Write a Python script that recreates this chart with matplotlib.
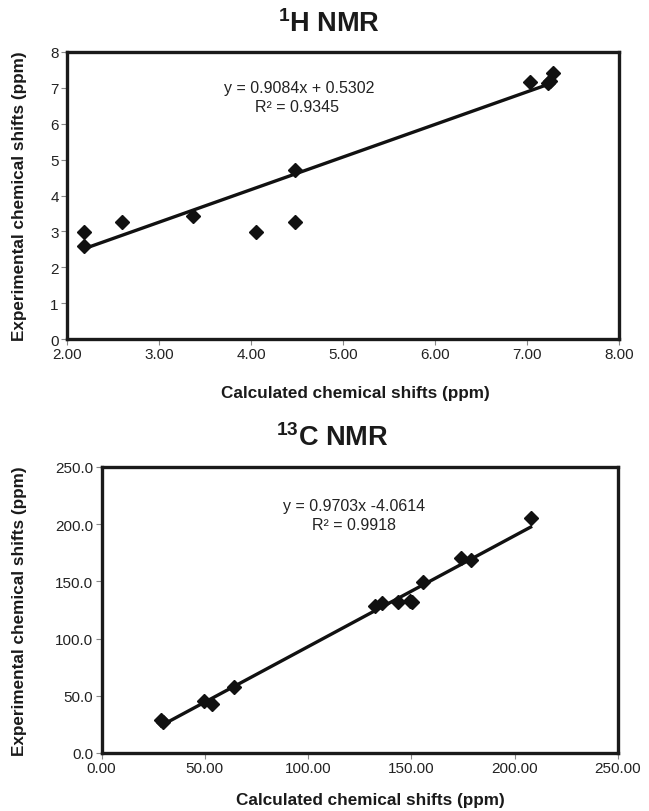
import numpy as np
import matplotlib
matplotlib.use("Agg")
import matplotlib.pyplot as plt

plt.rcParams['font.family'] = ['Liberation Sans', 'DejaVu Sans']
plt.rcParams['mathtext.fontset'] = 'custom'
plt.rcParams['mathtext.rm'] = 'Liberation Sans'
plt.rcParams['mathtext.bf'] = 'Liberation Sans:bold'

# 1H NMR: calculated vs experimental shifts (ppm)
h_calc = [2.19, 2.19, 2.60, 3.37, 4.05, 4.48, 4.48, 7.03, 7.23, 7.25, 7.28]
h_exp = [2.98, 2.60, 3.27, 3.42, 2.98, 3.27, 4.71, 7.16, 7.13, 7.18, 7.41]
h_slope, h_icpt, h_r2 = 0.9084, 0.5302, 0.9345

# 13C NMR
c_calc = [29.0, 30.0, 49.7, 53.3, 64.2, 132.6, 135.8, 143.5, 149.2, 150.2,
          155.6, 174.2, 179.0, 207.7]
c_exp = [29.0, 27.5, 45.2, 42.8, 57.4, 128.7, 130.8, 131.7, 133.1, 132.0,
         149.7, 170.4, 169.0, 205.4]
c_slope, c_icpt, c_r2 = 0.9703, -4.0614, 0.9918

h_xticks = [2, 3, 4, 5, 6, 7, 8]
h_yticks = [0, 1, 2, 3, 4, 5, 6, 7, 8]
c_xticks = [0, 50, 100, 150, 200, 250]
c_yticks = [0, 50, 100, 150, 200, 250]

W, H = 649, 812
fig = plt.figure(figsize=(W / 100, H / 100), dpi=100)


def px_axes(l, t, r, b):
    return fig.add_axes([l / W, 1 - b / H, (r - l) / W, (b - t) / H])


def style(ax):
    for s in ax.spines.values():
        s.set_linewidth(2.4)
        s.set_color('#1a1a1a')
    ax.tick_params(direction='out', length=4, width=0.8, color='#888888',
                   labelsize=11, pad=2, labelcolor='#222222')


def panel(ax, xs, ys, slope, icpt, xlim, ylim, xt, yt, xfmt, yfmt):
    ax.plot(xs, ys, linestyle='none', marker='D', markersize=7,
            color='#111111', zorder=3)
    lx = np.array([min(xs), max(xs)])
    ax.plot(lx, slope * lx + icpt, color='#111111', lw=2.4, zorder=2)
    ax.set_xlim(*xlim)
    ax.set_ylim(*ylim)
    ax.set_xticks(xt)
    ax.set_yticks(yt)
    ax.set_xticklabels([xfmt.format(v) for v in xt])
    ax.set_yticklabels([yfmt.format(v) for v in yt])
    style(ax)


lab = dict(ha='center', va='center', fontsize=12.3, fontweight='bold', color='#1a1a1a')
eq = dict(ha='center', va='center', fontsize=11.5, color='#222222')
ttl = dict(ha='center', va='center', fontsize=19.5, fontweight='bold', color='#1a1a1a')

ax1 = px_axes(67, 53, 619, 340)
panel(ax1, h_calc, h_exp, h_slope, h_icpt, (2, 8), (0, 8),
      h_xticks, h_yticks, '{:.2f}', '{:d}')
fig.text(299 / W, 1 - 89 / H, 'y = {:.4f}x + {:.4f}'.format(h_slope, h_icpt), **eq)
fig.text(297 / W, 1 - 108 / H, 'R² = {:.4f}'.format(h_r2), **eq)
fig.text(329 / W, 1 - 24 / H, r'$^{\mathbf{1}}$H NMR', **ttl)
fig.text(355 / W, 1 - 394 / H, 'Calculated chemical shifts (ppm)', **lab)
fig.text(20 / W, 1 - 196 / H, 'Experimental chemical shifts (ppm)', rotation=90, **lab)

ax2 = px_axes(101.5, 468, 618, 754)
panel(ax2, c_calc, c_exp, c_slope, c_icpt, (0, 250), (0, 250),
      c_xticks, c_yticks, '{:.2f}', '{:.1f}')
fig.text(354 / W, 1 - 507 / H, 'y = {:.4f}x {:.4f}'.format(c_slope, c_icpt), **eq)
fig.text(354 / W, 1 - 526 / H, 'R² = {:.4f}'.format(c_r2), **eq)
fig.text(332 / W, 1 - 438 / H, r'$^{\mathbf{13}}$C NMR', **ttl)
fig.text(370 / W, 1 - 801 / H, 'Calculated chemical shifts (ppm)', **lab)
fig.text(20 / W, 1 - 611 / H, 'Experimental chemical shifts (ppm)', rotation=90, **lab)

fig.savefig('out.png', dpi=100)
